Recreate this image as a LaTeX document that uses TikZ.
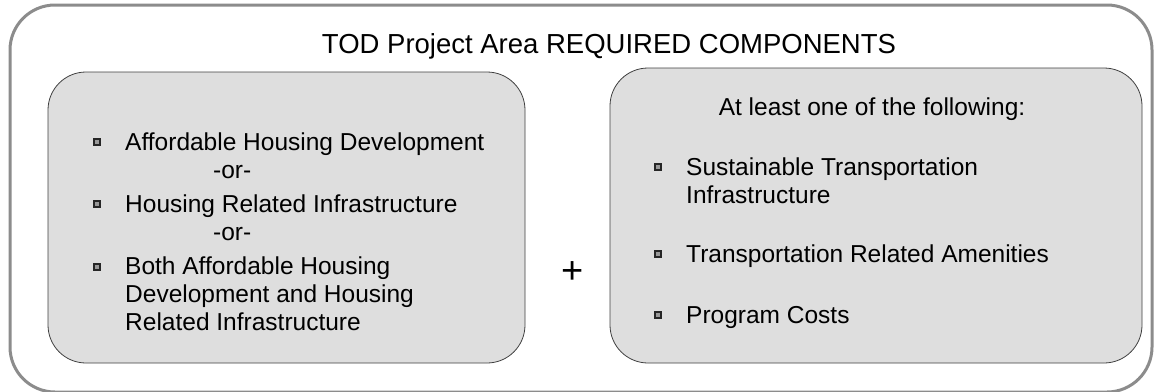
\documentclass[tikz,border=0pt]{standalone}
\usepackage{fontspec}
\setmainfont{Liberation Sans}
\begin{document}
\begin{tikzpicture}[x=1pt, y=-1pt,
    every node/.style={font=\fontsize{24.5}{28}\selectfont, inner sep=0pt},
    panel/.style={draw=black!75, fill=black!13, line width=0.8pt, rounded corners=38pt},
    bullet/.style={draw=black!85, fill=black!40, line width=1.2pt, minimum size=6pt}]
  \useasboundingbox (0,0) rectangle (1155,391);
  \draw[black!45, line width=3pt, rounded corners=45pt] (10,5) rectangle (1152,392);
  \draw[panel] (48,72) rectangle (525,363);
  \draw[panel] (610,68) rectangle (1142,363);
  \node[anchor=base, font=\fontsize{27.5}{30}\selectfont] (title) at (609,53) {TOD Project Area REQUIRED COMPONENTS};
  % left panel
  \node[anchor=base west] (ahd) at (125,150) {Affordable Housing Development};
  \node[anchor=base west] (or1) at (213,178) {-or-};
  \node[anchor=base west] (hri) at (125,212) {Housing Related Infrastructure};
  \node[anchor=base west] (or2) at (213,240) {-or-};
  \node[anchor=base west, align=left] (both) at (125,330)
    {Both Affordable Housing\\Development and Housing\\Related Infrastructure};
  \node[font=\fontsize{38}{38}\selectfont] (plus) at (573,273) {+};
  % right panel
  \node[anchor=base] (atleast) at (872,115) {At least one of the following:};
  \node[anchor=base west, align=left] (sti) at (686,203) {Sustainable Transportation\\Infrastructure};
  \node[anchor=base west] (tra) at (686,262) {Transportation Related Amenities};
  \node[anchor=base west] (pc) at (686,323) {Program Costs};
  \foreach \n/\bx/\by in {ahd/97/142, hri/97/204, both/97/267, sti/658/167, tra/658/254, pc/658/315}
    \node[bullet] (b-\n) at (\bx,\by) {};
\end{tikzpicture}
\end{document}
